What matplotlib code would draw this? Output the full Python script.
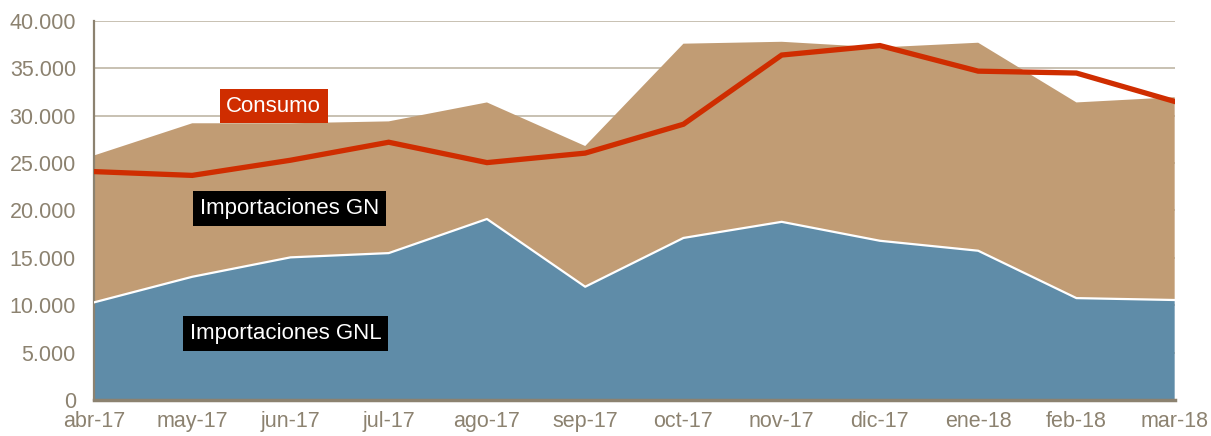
import numpy as np
import matplotlib.pyplot as plt
from matplotlib.ticker import FuncFormatter

plt.rcParams.update({
    "font.family": ["Liberation Sans", "DejaVu Sans"],
    "font.size": 15,
})

# --- Data (miles de m3/día) ---
meses = ["abr-17", "may-17", "jun-17", "jul-17", "ago-17", "sep-17",
         "oct-17", "nov-17", "dic-17", "ene-18", "feb-18", "mar-18"]
gnl = [10.3, 13.0, 15.05, 15.5, 19.1, 11.95, 17.1, 18.8, 16.8, 15.75, 10.75, 10.55]
total = [25.8, 29.2, 29.2, 29.4, 31.4, 26.8, 37.6, 37.8, 37.2, 37.7, 31.4, 31.95]
consumo = [24.1, 23.7, 25.3, 27.2, 25.05, 26.05, 29.1, 36.4, 37.4, 34.7, 34.5, 31.5]

gnl = np.array(gnl) * 1000
gn = np.array(total) * 1000 - gnl
consumo = np.array(consumo) * 1000

# --- Colors ---
c_gnl = "#5F8CA8"
c_gn = "#C19C74"
c_red = "#CF2D00"
c_axis = "#8C8270"
c_grid = "#C4BCAC"

fig = plt.figure(figsize=(12.11, 4.36), dpi=100)
ax = fig.add_axes([0.0776, 0.0826, 0.8924, 0.8694])

x = np.arange(len(meses))
ax.stackplot(x, gnl, gn, colors=[c_gnl, c_gn], zorder=2)
ax.plot(x, gnl, color="white", lw=1.6, zorder=3)
ax.plot(x, consumo, color=c_red, lw=3.8, solid_joinstyle="miter", zorder=4)

ax.set_xlim(0, len(meses) - 1)
ax.set_ylim(0, 40000)
ax.set_yticks(np.arange(0, 40001, 5000))
ax.yaxis.set_major_formatter(FuncFormatter(lambda v, p: f"{int(v):,}".replace(",", ".")))
ax.set_xticks(x)
ax.set_xticklabels(meses)

ax.grid(axis="y", color=c_grid, lw=1.3, zorder=1)
ax.set_axisbelow(True)
for s in ["top", "right"]:
    ax.spines[s].set_visible(False)
ax.spines["left"].set_color(c_axis)
ax.spines["left"].set_linewidth(1.6)
ax.spines["bottom"].set_color(c_axis)
ax.spines["bottom"].set_linewidth(2.5)
ax.spines["bottom"].set_zorder(5)
ax.tick_params(axis="both", length=0, colors=c_axis, labelsize=15.5)
ax.tick_params(axis="y", pad=13)
ax.tick_params(axis="x", pad=8)

# --- Series labels ---
box = dict(boxstyle="square,pad=0.3", ec="none")
ax.text(1.83, 31000, "Consumo", color="white", fontsize=16, ha="center", va="center",
        bbox=dict(box, fc=c_red), zorder=6)
ax.text(1.99, 20200, "Importaciones GN", color="white", fontsize=16, ha="center", va="center",
        bbox=dict(box, fc="black"), zorder=6)
ax.text(1.95, 7000, "Importaciones GNL", color="white", fontsize=16, ha="center", va="center",
        bbox=dict(box, fc="black"), zorder=6)

fig.savefig("out.png", dpi=100)
